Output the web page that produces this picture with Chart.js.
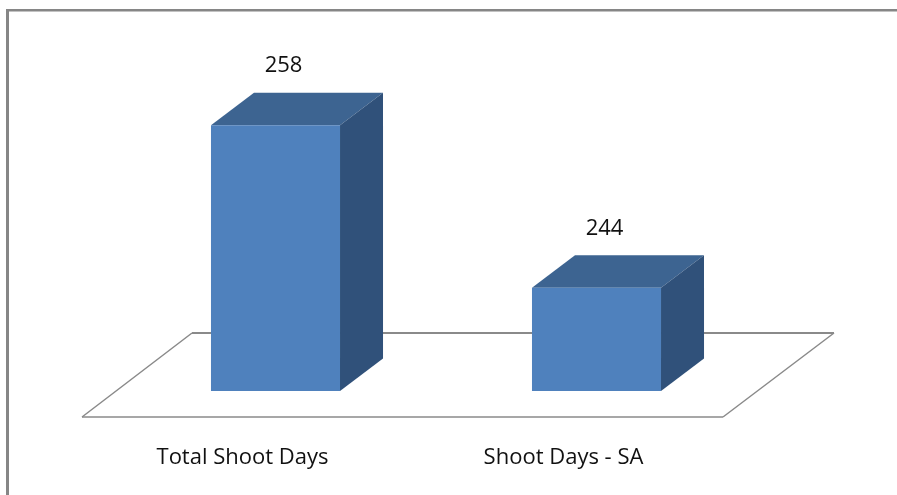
<!DOCTYPE html>
<html>
<head>
<meta charset="utf-8">
<style>html,body{margin:0;padding:0;background:#fff}canvas{display:block}</style>
<script src="https://cdn.jsdelivr.net/npm/chart.js@4"></script>
</head>
<body>
<canvas id="c" width="897" height="495"></canvas>
<script>
const categories = ["Total Shoot Days", "Shoot Days - SA"];
const shootDays = [258, 244];
const axisMin = 235.1;
const axisMax = 260;

const FONT = '22px "Open Sans"';
const DEPTH_X = 43, DEPTH_Y = 32.5;
const FLOOR_DX = 110, FLOOR_DY = 84;

const frame3d = {
  id: 'frame3d',
  beforeDraw(chart) {
    const c = chart.ctx;
    c.save();
    c.fillStyle = '#fff';
    c.fillRect(0, 0, chart.width, chart.height);
    c.fillStyle = '#868686';
    c.fillRect(6, 9, chart.width - 6, 2.5);
    c.fillRect(6, 9, 3, chart.height - 9);
    c.restore();
  },
  beforeDatasetsDraw(chart) {
    const c = chart.ctx, a = chart.chartArea;
    const fy = a.bottom + 26, fl = a.left - 33, fr = a.right - 34;
    c.save();
    c.strokeStyle = '#8a8a8a';
    c.lineWidth = 1.5;
    c.beginPath();
    c.moveTo(fl + FLOOR_DX, fy - FLOOR_DY);
    c.lineTo(fl, fy);
    c.moveTo(fr, fy);
    c.lineTo(fr + FLOOR_DX + 1, fy - FLOOR_DY);
    c.stroke();
    c.lineWidth = 1.5;
    c.beginPath();
    c.moveTo(fl, fy);
    c.lineTo(fr, fy);
    c.stroke();
    c.lineWidth = 2;
    c.beginPath();
    c.moveTo(fl + FLOOR_DX, fy - FLOOR_DY);
    c.lineTo(fr + FLOOR_DX + 1, fy - FLOOR_DY);
    c.stroke();
    const bt = chart.scales.y.getPixelForValue(axisMin);
    chart.getDatasetMeta(0).data.forEach(b => {
      const l = b.x - b.width / 2, r = b.x + b.width / 2, t = b.y;
      c.fillStyle = '#3D6491';
      c.beginPath();
      c.moveTo(l, t);
      c.lineTo(l + DEPTH_X, t - DEPTH_Y);
      c.lineTo(r + DEPTH_X, t - DEPTH_Y);
      c.lineTo(r, t);
      c.closePath();
      c.fill();
      c.fillStyle = '#30517A';
      c.beginPath();
      c.moveTo(r, t);
      c.lineTo(r + DEPTH_X, t - DEPTH_Y);
      c.lineTo(r + DEPTH_X, bt - DEPTH_Y);
      c.lineTo(r, bt);
      c.closePath();
      c.fill();
    });
    c.restore();
  },
  afterDatasetsDraw(chart) {
    const c = chart.ctx;
    c.save();
    c.font = FONT;
    c.fillStyle = '#111';
    c.textAlign = 'center';
    c.textBaseline = 'middle';
    chart.getDatasetMeta(0).data.forEach((b, i) => {
      c.fillText(String(shootDays[i]), b.x + 8, b.y - 59);
    });
    c.restore();
  }
};

new Chart(document.getElementById('c'), {
  type: 'bar',
  data: {
    labels: categories,
    datasets: [{
      data: shootDays,
      backgroundColor: '#4F81BD',
      borderWidth: 0,
      barPercentage: 0.402,
      categoryPercentage: 1
    }]
  },
  options: {
    responsive: false,
    animation: false,
    layout: { padding: { left: 115, right: 140, top: 102, bottom: 0 } },
    plugins: { legend: { display: false }, tooltip: { enabled: false }, title: { display: false } },
    scales: {
      y: { display: false, min: axisMin, max: axisMax, grid: { display: false } },
      x: {
        grid: { display: false },
        border: { display: false },
        afterFit(s) { s.height = 104; },
        ticks: {
          autoSkip: false,
          maxRotation: 0,
          minRotation: 0,
          labelOffset: -33,
          padding: 46,
          color: '#111',
          font: { family: '"Open Sans"', size: 22 }
        }
      }
    }
  },
  plugins: [frame3d]
});
</script>
</body>
</html>
